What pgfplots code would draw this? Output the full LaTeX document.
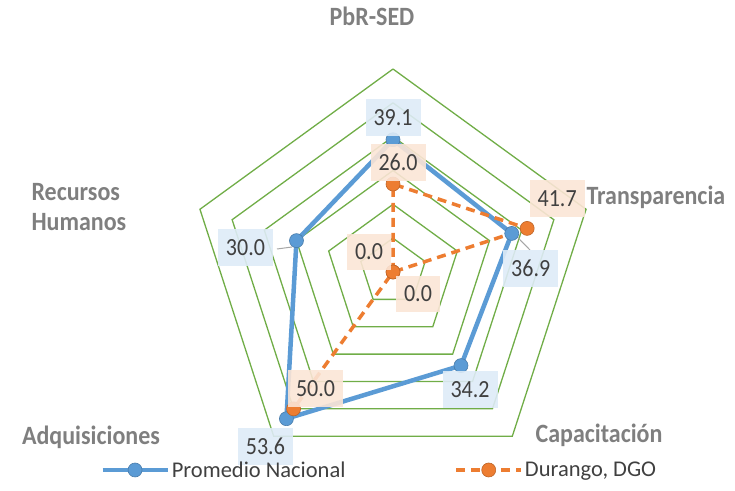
\documentclass[border=0pt]{standalone}
\usepackage{pgfplots}
\pgfplotsset{compat=1.18}
\usepackage{pgfplotstable}
\usepackage{fontspec}
\setmainfont{Carlito}
\definecolor{gridgreen}{HTML}{70AD47}
\definecolor{nblue}{HTML}{5B9BD5}
\definecolor{norange}{HTML}{ED7D31}
\definecolor{lblue}{HTML}{DEEBF7}
\definecolor{lorange}{HTML}{FBE5D6}
\definecolor{txt}{HTML}{404040}
\definecolor{cat}{HTML}{7F7F7F}

% angle (deg), value, label offset dx, dy (pt)
\pgfplotstableread{
a r dx dy
90 39.1 0 22
18 36.9 19 -35
-54 34.2 9 -24
234 53.6 -21 -28
162 30.0 -51 -7
}\nacional

% order chosen so that the path does not run back over itself
\pgfplotstableread{
a r dx dy
162 0.0 -24 20
90 26.0 5 22
18 41.7 30 30
-54 0.0 25 -22
234 50.0 22 20
}\durango

\pgfplotsset{
  lab/.style={forget plot, draw=none, mark=none, data cs=polar,
    nodes near coords={\pgfmathprintnumber[fixed,fixed zerofill,precision=1,assume math mode=true]{\pgfplotspointmeta}},
    point meta=explicit,
    visualization depends on={\thisrow{dx}\as\dx},
    visualization depends on={\thisrow{dy}\as\dy},
    nodes near coords style={anchor=center, xshift=\dx pt, yshift=\dy pt,
      fill=#1, fill opacity=0.9, text opacity=1, text=txt,
      font=\fontsize{22}{26}\selectfont, inner xsep=8pt, minimum height=33pt,
      yscale=1.12, transform shape},
  },
  gridpent/.style={gridgreen, line width=1.3pt, forget plot, mark=none, data cs=polar},
}

\begin{document}
\begin{tikzpicture}
\begin{axis}[
  at={(393pt,218pt)}, anchor=center,
  x=3.383pt, y=3.383pt,
  xmin=-65, xmax=65, ymin=-65, ymax=65,
  hide axis, clip=false,
  legend columns=2,
  legend style={at={(-0.166,0.0498)}, anchor=west, draw=none, fill=none,
    inner sep=0pt, font=\fontsize{22.5}{26}\selectfont, text=txt,
    /tikz/every even column/.append style={column sep=107pt}},
  legend image code/.code={
    \draw[#1,mark=none] (0pt,0pt) -- (65pt,0pt);
    \draw[#1,solid] plot coordinates {(32.5pt,0pt)};
  },
]
\pgfplotsinvokeforeach{10,20,30,40,50,60}{
  \addplot[gridpent] coordinates {(90,#1) (18,#1) (-54,#1) (-126,#1) (162,#1) (90,#1)};
}
\draw[gray!70, line width=1pt] (axis cs:-34.3,6.8) -- (axis cs:-29.8,7.4);
\draw[gray!70, line width=1pt] (axis cs:35.6,11.5) -- (axis cs:40.5,6.5);

\addplot[nblue, line width=4.5pt, line join=round, mark=*, mark size=7pt,
  mark options={fill=nblue, draw=nblue!80!black, line width=0.6pt}, data cs=polar]
  table[x=a, y=r] {\nacional} -- cycle;
\addlegendentry{Promedio Nacional}

\addplot[norange, line width=3.5pt, dash pattern=on 9pt off 6pt, mark=*, mark size=7pt,
  mark options={solid, fill=norange, draw=norange!80!black, line width=0.6pt}, data cs=polar]
  table[x=a, y=r] {\durango};
\addlegendentry{Durango, DGO}

\addplot[lab=lblue] table[x=a, y=r, meta=r] {\nacional};
\addplot[lab=lorange] table[x=a, y=r, meta=r] {\durango};
\end{axis}

\begin{scope}[every node/.style={text=cat, font=\fontsize{24}{27}\selectfont\bfseries, yscale=1.1, transform shape}]
\node at (372pt,474pt) {PbR-SED};
\node[anchor=west] at (583pt,293pt) {Transparencia};
\node at (599pt,55pt) {Capacitación};
\node at (91pt,53pt) {Adquisiciones};
\node[anchor=west, align=left] at (28pt,283pt) {Recursos\\Humanos};
\end{scope}

\pgfresetboundingbox
\path[use as bounding box] (0,0) rectangle (735pt,490pt);
\end{tikzpicture}
\end{document}
